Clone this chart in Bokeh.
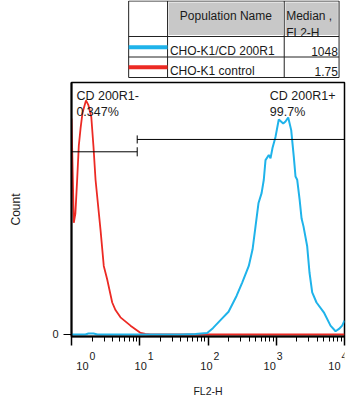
from bokeh.plotting import figure
from bokeh.layouts import column
from bokeh.models import Range1d, FixedTicker, Label, CustomJSTickFormatter
from bokeh.core.properties import value
from bokeh.embed import file_html
from bokeh.resources import INLINE

FONT = "Liberation Sans"
TXT = "#1a1a1a"

# ---------------- data ----------------
# CHO-K1/CD 200R1 histogram (FL2-H, count scaled 0-100)
blue_x = [1.0, 1.6, 1.77, 2.1, 2.4, 5.2, 14.4, 39.5, 65.6, 97.3, 118, 150, 200,
          262, 317, 396, 450, 497, 550, 610, 657, 696, 778, 824, 881, 975,
          1089, 1265, 1367, 1497, 1656, 1808, 1915, 2028, 2200, 2350, 2507,
          2840, 3069, 3363, 3890, 4975, 6237, 7400, 8300, 9250, 10000]
blue_y = [0, 0, 0.4, 0.4, 0, 0, 0, 0, 0.2, 0.6, 2.5, 5.5, 9.0,
          15.3, 20.6, 27.2, 33.8, 42.9, 52.2, 56.1, 61.4, 69.2, 71.2, 69.9, 74.0, 78.4,
          85.3, 83.7, 84.5, 86.1, 81.1, 70.5, 62.7, 61.4, 53.5, 46.0, 42.9,
          35.0, 24.6, 16.7, 12.7, 8.8, 3.5, 1.3, 2.2, 3.5, 5.5]

# CHO-K1 control histogram
red_x = [1.0, 1.08, 1.14, 1.21, 1.28, 1.36, 1.45, 1.63, 1.77, 1.95, 2.1,
         2.25, 2.66, 2.97, 3.33, 3.95, 4.41, 5.22, 7.32, 10.3, 12.1, 14.4, 10000]
red_y = [85.7, 44.3, 48.0, 61.4, 75.0, 82.0, 88.0, 92.9, 91.0, 86.3, 74.5,
         61.4, 41.6, 27.2, 21.9, 12.7, 9.7, 6.8, 3.5, 0.6, 0.2, 0, 0]

populations = ["CHO-K1/CD 200R1", "CHO-K1 control"]
medians = ["1048", "1.75"]
series_colors = ["#1fb3ea", "#ec2a24"]

gate_names = ["CD 200R1-", "CD 200R1+"]
gate_pcts = ["0.347%", "99.7%"]
gate_lo = [1, 9.18]
gate_hi = [9.18, 10000]
gate_level = [72.5, 77.4]
gate_label_x = [1.18, 805]

x_exponents = [0, 1, 2, 3, 4]
x_label_shift = [17, 7, 4.5, -0.5, -4]

# ---------------- table ----------------
t = figure(width=351, height=80, x_range=Range1d(0, 351), y_range=Range1d(80, 0),
           toolbar_location=None, output_backend="svg", min_border=0,
           x_axis_location=None, y_axis_location=None, outline_line_color=None)
t.grid.visible = False
cx = [73.5, 123.5, 273.5, 344]
ry = [0.5, 36, 56.5, 77]
t.quad(left=[cx[1] + 1.5, cx[2] + 1.5], right=[cx[2] - 1.5, cx[3] - 1.5],
       top=[ry[0] + 1.5] * 2, bottom=[ry[1] - 1.5] * 2,
       fill_color="#c8c8c8", line_color=None)
t.segment(x0=[cx[0]] * 4, x1=[cx[3]] * 4, y0=ry, y1=ry, line_color="#222", line_width=1)
t.segment(x0=cx, x1=cx, y0=[ry[0]] * 4, y1=[ry[3]] * 4, line_color="#222", line_width=1)
row_mid = [(ry[1] + ry[2]) / 2 + 0.5, (ry[2] + ry[3]) / 2]
t.segment(x0=[cx[0]] * 2, x1=[cx[1]] * 2, y0=row_mid, y1=row_mid,
          line_color=series_colors, line_width=4)
t.text(x=[(cx[1] + cx[2]) / 2], y=[15], text=["Population Name"], text_align="center",
       text_baseline="alphabetic", text_font=value(FONT), text_font_size="12px", text_color=TXT)
t.text(x=[cx[2] + 2.5, cx[2] + 2.5], y=[15, 32.5], text=["Median ,", "FL2-H"],
       text_align="left", text_baseline="alphabetic", text_font=value(FONT),
       text_font_size="12px", text_color=TXT)
t.text(x=[cx[1] + 3] * 2, y=[r + 4 for r in row_mid], text=populations, text_align="left",
       text_baseline="alphabetic", text_font=value(FONT), text_font_size="12px", text_color=TXT)
t.text(x=[cx[3] - 1.5] * 2, y=[r + 4 for r in row_mid], text=medians, text_align="right",
       text_baseline="alphabetic", text_font=value(FONT), text_font_size="12px", text_color=TXT)

# ---------------- histogram ----------------
xr = Range1d(1, 1e4)
p = figure(width=351, height=266, x_axis_type="log", x_range=xr,
           y_range=Range1d(-0.8, 100), toolbar_location=None, output_backend="svg",
           min_border_left=71, min_border_right=7, min_border_top=2, min_border_bottom=10)
p.grid.visible = False
p.outline_line_color = "black"
p.outline_line_width = 1.5

p.line(red_x, red_y, line_color=series_colors[1], line_width=1.8)
p.line(blue_x, blue_y, line_color=series_colors[0], line_width=2)

p.segment(x0=gate_lo, x1=gate_hi, y0=gate_level, y1=gate_level, line_color="black", line_width=1)
p.segment(x0=[gate_hi[0], gate_lo[1]], x1=[gate_hi[0], gate_lo[1]],
          y0=[gate_level[0] - 1.8, gate_level[1] - 1.6],
          y1=[gate_level[0] + 1.8, gate_level[1] + 1.6], line_color="black", line_width=1)

for gx, name, pct in zip(gate_label_x, gate_names, gate_pcts):
    p.add_layout(Label(x=gx, y=94.8, text=name, text_font=FONT, text_font_size="12.5px",
                       text_color=TXT, text_baseline="alphabetic"))
    p.add_layout(Label(x=gx, y=88.2, text=pct, text_font=FONT, text_font_size="12.5px",
                       text_color=TXT, text_baseline="alphabetic"))

xa = p.xaxis[0]
xa.ticker = FixedTicker(ticks=[10 ** k for k in x_exponents],
                        minor_ticks=[m * 10 ** k for k in x_exponents[:-1] for m in range(2, 10)])
xa.formatter = CustomJSTickFormatter(code="return ''")
xa.major_label_text_font_size = "1px"
xa.major_label_standoff = 0
xa.major_tick_out = 9
xa.major_tick_in = 0
xa.minor_tick_out = 5
xa.minor_tick_in = 0
xa.axis_line_width = 2
xa.major_tick_line_width = 1.5
xa.major_tick_line_color = "black"
xa.minor_tick_line_color = "black"

ya = p.yaxis[0]
ya.ticker = FixedTicker(ticks=[0])
ya.major_tick_out = 8
ya.major_tick_in = 0
ya.minor_tick_out = 0
ya.axis_line_width = 2
ya.major_label_text_font = FONT
ya.major_label_text_font_size = "11px"
ya.major_label_text_color = TXT
ya.major_label_standoff = 5
ya.axis_label = "Count"
ya.axis_label_text_font = FONT
ya.axis_label_text_font_size = "12px"
ya.axis_label_text_font_style = "normal"
ya.axis_label_text_color = TXT
ya.axis_label_standoff = 26

# ---------------- x tick labels + axis title (shares the x scale) ----------------
lab = figure(width=351, height=55, x_axis_type="log", x_range=xr, y_range=Range1d(0, 30),
             toolbar_location=None, output_backend="svg", y_axis_location=None,
             min_border_left=71, min_border_right=7, min_border_top=0, min_border_bottom=25,
             outline_line_color=None)
lab.grid.visible = False
tick_vals = [10 ** k for k in x_exponents]
lab.text(x=tick_vals, y=[11] * len(tick_vals), text=["10"] * len(tick_vals),
         x_offset=x_label_shift, text_align="right", text_baseline="alphabetic",
         text_font=value(FONT), text_font_size="11px", text_color=TXT)
lab.text(x=tick_vals, y=[21] * len(tick_vals), text=[str(k) for k in x_exponents],
         x_offset=[s + 1 for s in x_label_shift], text_align="left", text_baseline="alphabetic",
         text_font=value(FONT), text_font_size="10.5px", text_color=TXT)
la = lab.xaxis[0]
la.ticker = FixedTicker(ticks=[])
la.axis_line_color = None
la.major_tick_out = 0
la.major_tick_in = 0
la.minor_tick_out = 0
la.major_label_standoff = 0
la.axis_label = "FL2-H"
la.axis_label_text_font = FONT
la.axis_label_text_font_size = "10.5px"
la.axis_label_text_font_style = "normal"
la.axis_label_text_color = TXT
la.axis_label_standoff = 8

layout = column(t, p, lab)
open("out.html", "w").write(file_html(layout, INLINE))
